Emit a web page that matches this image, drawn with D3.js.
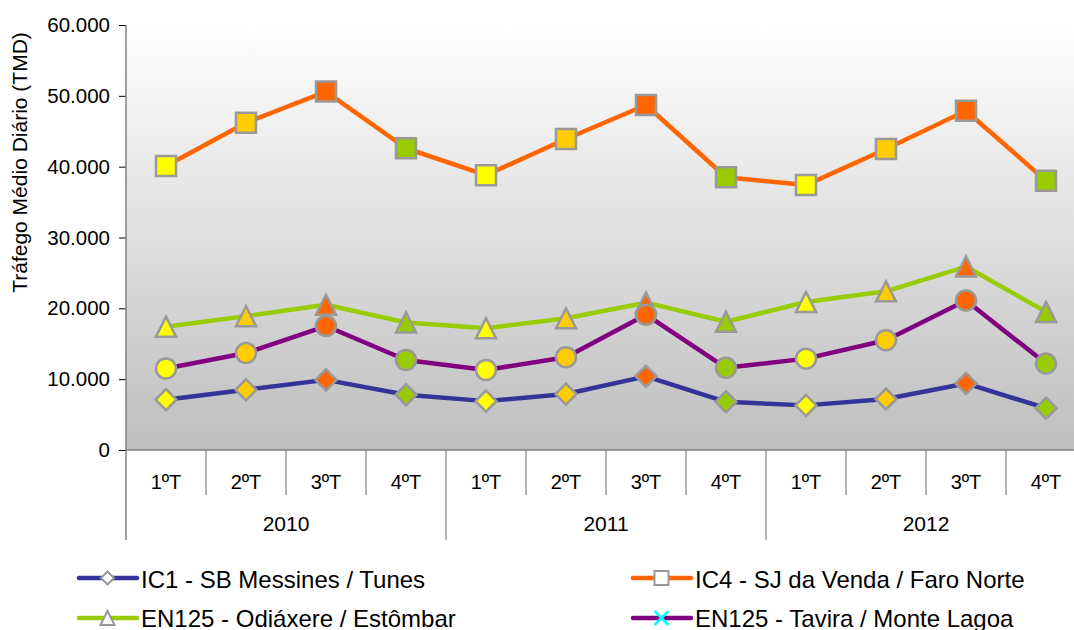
<!DOCTYPE html>
<html><head><meta charset="utf-8">
<script src="https://cdn.jsdelivr.net/npm/d3@7"></script>
<style>
html,body{margin:0;padding:0;background:#fff;}
svg{display:block;font-family:"Liberation Sans",Arial,sans-serif;}
</style></head>
<body><svg id="chart" width="1074" height="630"></svg>
<script>
const years = ["2010","2011","2012"];
const quarters = ["1ºT","2ºT","3ºT","4ºT"];
const yTicks = [0,10000,20000,30000,40000,50000,60000];
const seriesNames = ["IC1 - SB Messines / Tunes","IC4 - SJ da Venda / Faro Norte","EN125 - Odiáxere / Estômbar","EN125 - Tavira / Monte Lagoa"];
const ic1 = [7100,8500,9900,7800,6900,7900,10400,6800,6300,7200,9400,5900];
const ic4 = [40100,46200,50600,42600,38800,43900,48700,38500,37400,42500,47900,38000];
const odiaxere = [17400,18900,20500,18000,17200,18600,20800,18100,20900,22400,25900,19500];
const tavira = [11500,13700,17500,12700,11300,13100,19100,11600,12900,15500,21100,12200];
const lineColors = ["#333399","#FF6600","#99CC00","#800080"];
const markerShapes = ["diamond","square","triangle","circle"];
const legendShapes = ["diamond","square","triangle","x"];
const quarterColors = ["#FFFF00","#FFCC00","#FF6600","#99CC00"];

const allSeries = [ic1, ic4, odiaxere, tavira];
const cats = [];
years.forEach(yv => quarters.forEach(q => cats.push({year:yv, q:q})));

const svg = d3.select("#chart");
const L = 126, R = 1086, T = 25, B = 450;
const x = d3.scaleBand().domain(d3.range(cats.length)).range([L,R]);
const y = d3.scaleLinear().domain([0,60000]).range([B,T]);

// background gradient
const defs = svg.append("defs");
const grad = defs.append("linearGradient").attr("id","bg").attr("x1",0).attr("y1",0).attr("x2",0).attr("y2",1);
grad.append("stop").attr("offset","0%").attr("stop-color","#ffffff");
grad.append("stop").attr("offset","100%").attr("stop-color","#bebebe");
svg.append("rect").attr("x",L).attr("y",T).attr("width",R-L).attr("height",B-T).attr("fill","url(#bg)");

// Y axis
const loc = d3.formatLocale({decimal:",", thousands:".", grouping:[3], currency:["","€"]});
const fmt = loc.format(",d");
const yAxis = d3.axisLeft(y).tickValues(yTicks).tickSize(7).tickPadding(9).tickFormat(d => fmt(d));
const yg = svg.append("g").attr("transform",`translate(${L},0)`).call(yAxis)
  .attr("font-size",null).attr("font-family",null);
yg.select(".domain").remove();
yg.selectAll(".tick line").attr("stroke","#000").attr("stroke-width",1);
yg.selectAll(".tick text").style("font-size","20.5px").attr("fill","#000")
  .style("font-family","'Liberation Sans',Arial,sans-serif");
svg.append("line").attr("x1",L).attr("x2",L).attr("y1",T).attr("y2",540).attr("stroke","#808080").attr("stroke-width",1.5);

// y title
svg.append("text").attr("transform",`translate(27,${(30+295)/2}) rotate(-90)`)
  .attr("text-anchor","middle").style("font-size","21px").attr("fill","#000")
  .text("Tráfego Médio Diário (TMD)");

// category axis
svg.append("line").attr("x1",L).attr("x2",R).attr("y1",B).attr("y2",B).attr("stroke","#808080").attr("stroke-width",1.5);
d3.range(1,cats.length+1).forEach(i => {
  const bx = i < cats.length ? x(i) : R;
  const isYear = i % quarters.length === 0;
  svg.append("line").attr("x1",bx).attr("x2",bx).attr("y1",B).attr("y2",isYear?540:495)
    .attr("stroke","#808080").attr("stroke-width",1.2);
});
svg.selectAll(".qlab").data(cats).join("text").attr("class","qlab")
  .attr("x",(d,i)=>x(i)+x.bandwidth()/2).attr("y",489)
  .attr("text-anchor","middle").style("font-size","20px").attr("fill","#000")
  .text(d=>d.q);
svg.selectAll(".ylab").data(years).join("text").attr("class","ylab")
  .attr("x",(d,j)=>(x(j*4)+ (j*4+4<cats.length? x(j*4+4):R))/2).attr("y",531)
  .attr("text-anchor","middle").style("font-size","21px").attr("fill","#000")
  .text(d=>d);

// marker path generators
function shapePath(shape, s){
  switch(shape){
    case "diamond": return `M0,${-s}L${s},0L0,${s}L${-s},0Z`;
    case "square": return `M${-s},${-s}H${s}V${s}H${-s}Z`;
    case "triangle": return `M0,${-s}L${s},${s}L${-s},${s}Z`;
    case "circle": return `M${s},0A${s},${s} 0 1,1 ${-s},0A${s},${s} 0 1,1 ${s},0Z`;
    case "x": return `M${-s},${-s}L${s},${s}M${s},${-s}L${-s},${s}`;
  }
}
const markerSize = {diamond:10.5, square:10, triangle:10, circle:10};

const line = d3.line().x((d,i)=>x(i)+x.bandwidth()/2).y(d=>y(d));
allSeries.forEach((vals, si) => {
  const g = svg.append("g");
  g.append("path").datum(vals).attr("d",line).attr("fill","none")
    .attr("stroke",lineColors[si]).attr("stroke-width",4.5).attr("stroke-linejoin","round");
  g.selectAll("path.m").data(vals).join("path").attr("class","m")
    .attr("transform",(d,i)=>`translate(${x(i)+x.bandwidth()/2},${y(d)})`)
    .attr("d",shapePath(markerShapes[si], markerSize[markerShapes[si]]))
    .attr("fill",(d,i)=>quarterColors[i%4]).attr("stroke","#999999").attr("stroke-width",2.5)
    .attr("stroke-linejoin","miter");
});

// legend
const legendPos = [
  {lx:79, ly:578, ty:588},
  {lx:633, ly:578, ty:588},
  {lx:79, ly:618, ty:627},
  {lx:633, ly:618, ty:627}
];
const legendMarkerSize = {diamond:6.5, square:7, triangle:7, x:7};
seriesNames.forEach((name, si) => {
  const p = legendPos[si];
  const g = svg.append("g");
  g.append("line").attr("x1",p.lx).attr("x2",p.lx+58).attr("y1",p.ly).attr("y2",p.ly)
    .attr("stroke",lineColors[si]).attr("stroke-width",4.5).attr("stroke-linecap","round");
  const sh = legendShapes[si];
  g.append("path").attr("transform",`translate(${p.lx+28.5},${p.ly})`)
    .attr("d",shapePath(sh, legendMarkerSize[sh]))
    .attr("fill", sh==="x" ? "none" : "#ffffff")
    .attr("stroke", sh==="x" ? "#00FFFF" : "#999999")
    .attr("stroke-width", sh==="x" ? 2.5 : 2);
  g.append("text").attr("x",p.lx+62).attr("y",p.ty).style("font-size","24px").attr("fill","#000").text(name);
});
</script>
</body></html>
